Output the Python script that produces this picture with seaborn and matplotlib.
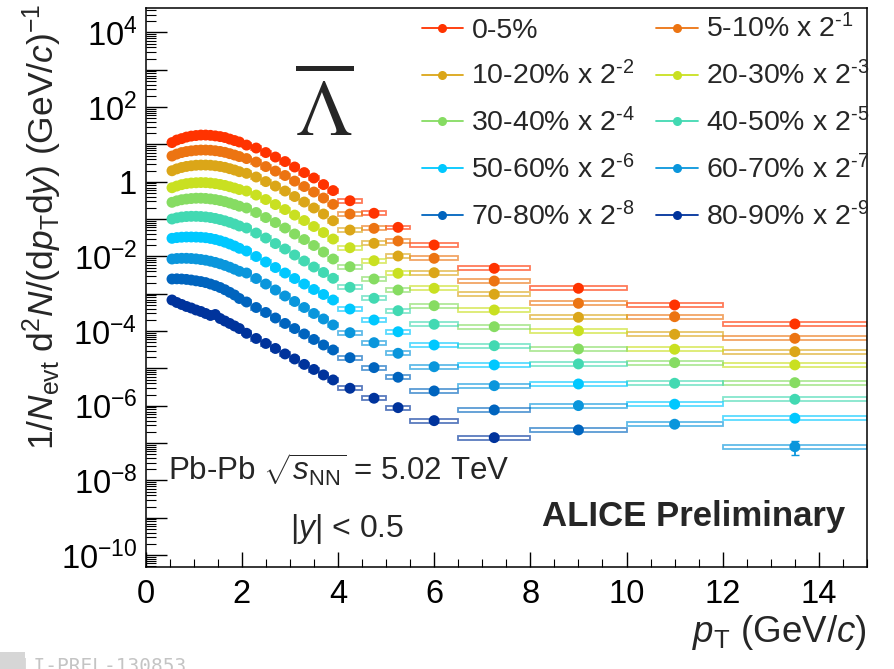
import numpy as np
import pandas as pd
import matplotlib
matplotlib.use("Agg")
import matplotlib.pyplot as plt
from matplotlib import ticker
from matplotlib.patches import Rectangle
from matplotlib.lines import Line2D
import seaborn as sns

# pT bin edges (GeV/c)
pt_edges = [0.5, 0.6, 0.7, 0.8, 0.9, 1.0, 1.1, 1.2, 1.3, 1.4, 1.5, 1.6, 1.7, 1.8, 1.9, 2.0,
            2.2, 2.4, 2.6, 2.8, 3.0, 3.2, 3.4, 3.6, 3.8, 4.0,
            4.5, 5.0, 5.5, 6.5, 8.0, 10.0, 12.0, 15.0]

centralities = ["0-5%", "5-10%", "10-20%", "20-30%", "30-40%",
                "40-50%", "50-60%", "60-70%", "70-80%", "80-90%"]
legend_labels = ["0-5%", r"5-10% x 2$^{\text{-}1}$", r"10-20% x 2$^{\text{-}2}$",
                 r"20-30% x 2$^{\text{-}3}$", r"30-40% x 2$^{\text{-}4}$",
                 r"40-50% x 2$^{\text{-}5}$", r"50-60% x 2$^{\text{-}6}$",
                 r"60-70% x 2$^{\text{-}7}$", r"70-80% x 2$^{\text{-}8}$",
                 r"80-90% x 2$^{\text{-}9}$"]
colors = ["#ff3300", "#ec7412", "#dba618", "#c9e021", "#86dc62",
          "#42d9b2", "#00c8ff", "#0a96dc", "#0064be", "#00339c"]

# spectra as drawn (already scaled by 2^-k)
y_0_5 = [11.2, 13.1, 14.3, 15.7, 16.7, 17.3, 17.8, 17.8, 17.5, 16.9, 16.2, 15.3, 13.9, 12.7, 11.6,
         9.6, 8.0, 6.05, 4.59, 3.47, 2.48, 1.76, 1.26, 0.84, 0.58,
         0.31, 0.143, 0.060, 0.0202, 0.0048, 0.0014, 5.0e-4, 1.55e-4]
y_5_10 = [4.88, 5.51, 6.05, 6.44, 6.72, 6.93, 7.06, 7.06, 6.97, 6.76, 6.48, 6.13, 5.65, 5.19, 4.73,
          4.18, 3.37, 2.55, 1.93, 1.47, 1.04, 0.744, 0.530, 0.366, 0.248,
          0.1365, 0.0565, 0.0259, 0.0089, 0.00219, 5.55e-4, 2.43e-4, 6.4e-5]
y_10_20 = [1.97, 2.21, 2.41, 2.57, 2.68, 2.77, 2.80, 2.80, 2.77, 2.68, 2.57, 2.43, 2.24, 2.06, 1.86,
           1.68, 1.34, 1.01, 0.767, 0.564, 0.402, 0.286, 0.198, 0.1365, 0.0903,
           0.0509, 0.0224, 0.01025, 0.00366, 9.7e-4, 2.34e-4, 8.2e-5, 2.81e-5]
y_20_30 = [0.691, 0.767, 0.836, 0.889, 0.923, 0.940, 0.952, 0.946, 0.923, 0.889, 0.847, 0.796, 0.735, 0.678, 0.618,
           0.564, 0.440, 0.334, 0.245, 0.180, 0.128, 0.0914, 0.0632, 0.0436, 0.0292,
           0.0171, 0.00767, 0.00353, 0.0014, 3.67e-4, 1.02e-4, 3.26e-5, 1.24e-5]
y_30_40 = [0.281, 0.308, 0.330, 0.344, 0.355, 0.362, 0.362, 0.357, 0.346, 0.332, 0.314, 0.293, 0.269, 0.245, 0.221,
           0.198, 0.150, 0.110, 0.0808, 0.0576, 0.0398, 0.0283, 0.0196, 0.0131, 0.00852,
           0.0053, 0.00248, 0.00126, 4.79e-4, 1.31e-4, 3.32e-5, 1.43e-5, 4.15e-6]
y_40_50 = [0.1003, 0.108, 0.1135, 0.117, 0.1185, 0.1185, 0.117, 0.1142, 0.110, 0.1041, 0.0972, 0.0898, 0.0818, 0.0737, 0.0652,
           0.0576, 0.0423, 0.0311, 0.0221, 0.0158, 0.0109, 0.00753, 0.0052, 0.00371, 0.00259,
           0.00149, 7.55e-4, 3.52e-4, 1.52e-4, 4.06e-5, 1.32e-5, 4.0e-6, 1.49e-6]
y_50_60 = [0.0305, 0.0319, 0.0327, 0.0331, 0.0331, 0.0329, 0.0325, 0.0317, 0.0303, 0.0285, 0.0263, 0.0240, 0.0215, 0.0190, 0.0165,
           0.01395, 0.00994, 0.00708, 0.00504, 0.00359, 0.00256, 0.00182, 0.0013, 9.55e-4, 6.8e-4,
           3.9e-4, 1.98e-4, 9.6e-5, 4.24e-5, 1.24e-5, 3.83e-6, 1.10e-6, 4.63e-7]
y_60_70 = [0.00852, 0.00878, 0.00889, 0.00889, 0.00878, 0.00857, 0.00826, 0.00791, 0.00744, 0.00691, 0.00634, 0.00574, 0.00514, 0.00454, 0.00399,
           0.00359, 0.00256, 0.00182, 0.00126, 8.71e-4, 6.2e-4, 4.28e-4, 2.96e-4, 2.11e-4, 1.46e-4,
           9.06e-5, 4.89e-5, 2.54e-5, 1.11e-5, 3.45e-6, 1.01e-6, 3.2e-7, 8.0e-8]
y_70_80 = [0.00248, 0.00251, 0.00248, 0.00242, 0.00233, 0.00222, 0.00212, 0.00199, 0.00182, 0.00165, 0.00147, 0.00128, 0.00109, 9.26e-4, 7.46e-4,
           6.01e-4, 4.28e-4, 3.15e-4, 2.24e-4, 1.60e-4, 1.17e-4, 8.37e-5, 5.96e-5, 4.24e-5, 3.12e-5,
           1.94e-5, 1.05e-5, 5.8e-6, 2.49e-6, 7.72e-7, 2.25e-7]
y_80_90 = [6.8e-4, 5.83e-4, 5.16e-4, 4.56e-4, 4.15e-4, 3.67e-4, 3.35e-4, 2.96e-4, 2.62e-4, 2.78e-4, 2.17e-4, 1.86e-4, 1.60e-4, 1.37e-4, 1.17e-4,
           8.73e-5, 6.34e-5, 4.66e-5, 3.42e-5, 2.44e-5, 1.79e-5, 1.28e-5, 9.37e-6, 6.68e-6, 4.91e-6,
           2.94e-6, 1.59e-6, 8.9e-7, 3.99e-7, 1.40e-7]
spectra = [y_0_5, y_5_10, y_10_20, y_20_30, y_30_40, y_40_50, y_50_60, y_60_70, y_70_80, y_80_90]

syst_rel = 0.12          # relative size of the systematic boxes
stat_60_70_last = 3.2e-8  # only stat. error large enough to be seen

rows = []
for cent, vals in zip(centralities, spectra):
    for i, v in enumerate(vals):
        rows.append({"centrality": cent, "pt": 0.5 * (pt_edges[i] + pt_edges[i + 1]),
                     "lo": pt_edges[i], "hi": pt_edges[i + 1], "value": v})
df = pd.DataFrame(rows)

sns.set_theme(style="ticks")
plt.rcParams["font.family"] = ["Liberation Sans", "DejaVu Sans"]
plt.rcParams["mathtext.fontset"] = "custom"
plt.rcParams["mathtext.rm"] = "Liberation Sans"
plt.rcParams["mathtext.it"] = "Liberation Sans:italic"
plt.rcParams["mathtext.bf"] = "Liberation Sans:bold"

fig = plt.figure(figsize=(8.94, 6.69), dpi=100)
ax = fig.add_axes([0.1628, 0.1525, 0.807, 0.8355])
ax.set_yscale("log")

# systematic boxes
for cent, col in zip(centralities, colors):
    sub = df[df["centrality"] == cent]
    for _, r in sub.iterrows():
        ax.add_patch(Rectangle((r["lo"], r["value"] * (1 - syst_rel)), r["hi"] - r["lo"],
                               2 * syst_rel * r["value"], facecolor="none",
                               edgecolor=col, lw=1.3, alpha=0.65, zorder=2))

sns.scatterplot(data=df, x="pt", y="value", hue="centrality", hue_order=centralities,
                palette=colors, s=62, linewidth=0, legend=False, ax=ax, zorder=3)

last = df[df["centrality"] == "60-70%"].iloc[-1]
ax.errorbar(last["pt"], last["value"], yerr=stat_60_70_last, fmt="none",
            ecolor=colors[7], elinewidth=1.3, capsize=3, zorder=3)

ax.set_xlim(0, 15)
ax.set_ylim(4.8e-11, 4.5e4)
ax.set_xlabel("")
ax.set_ylabel("")

ax.xaxis.set_major_locator(ticker.MultipleLocator(2))
ax.xaxis.set_minor_locator(ticker.MultipleLocator(0.5))
ax.yaxis.set_major_locator(ticker.LogLocator(base=10, numticks=100))
ax.yaxis.set_minor_locator(ticker.LogLocator(base=10, subs=np.arange(2, 10), numticks=100))


def ylab(v, pos):
    e = int(round(np.log10(v)))
    if e % 2:
        return ""
    if e == 0:
        return "1"
    return r"$10^{%d}$" % e


ax.yaxis.set_major_formatter(ticker.FuncFormatter(ylab))
ax.yaxis.set_minor_formatter(ticker.NullFormatter())
ax.tick_params(axis="both", which="both", direction="in", colors="black",
               labelsize=23.5, top=False, right=False)
ax.tick_params(axis="y", which="major", length=15, width=1, pad=6)
ax.tick_params(axis="y", which="minor", length=7.5, width=0.8)
ax.tick_params(axis="x", which="major", length=11, width=1, pad=9)
ax.tick_params(axis="x", which="minor", length=5.5, width=0.8)
for s in ax.spines.values():
    s.set_color("black")
    s.set_linewidth(1.1)

ax.text(-0.143, 1.008, r"1/$N_{\rm evt}$ d$^2N$/(d$p_{\rm T}$d$y$) (GeV/$c$)$^{-1}$",
        transform=ax.transAxes, rotation=90, ha="center", va="top", fontsize=25.5)
ax.text(1.0, -0.118, r"$p_{\rm T}$ (GeV/$c$)", transform=ax.transAxes,
        ha="right", va="center", fontsize=26.5)

ax.text(0.248, 0.81, r"$\overline{\Lambda}$", transform=ax.transAxes, ha="center",
        va="center", fontsize=58, math_fontfamily="stix")

ax.text(0.031, 0.1735, r"Pb-Pb $\sqrt{s_{\rm NN}}$ = 5.02 TeV", transform=ax.transAxes,
        ha="left", va="center", fontsize=22.5)
ax.text(0.2, 0.068, r"|$y$| < 0.5", transform=ax.transAxes,
        ha="left", va="center", fontsize=23)
ax.text(0.9695, 0.09, "ALICE Preliminary", transform=ax.transAxes,
        ha="right", va="center", fontsize=25, fontweight="bold")

# legend filled row by row: left column even entries, right column odd entries
order = [0, 2, 4, 6, 8, 1, 3, 5, 7, 9]
handles = [Line2D([0], [0], color=colors[i], lw=1.3, marker="o", ms=6.5, mew=0) for i in order]
ax.legend(handles, [legend_labels[i] for i in order], ncol=2, loc="upper left",
          bbox_to_anchor=(0.355, 1.024), frameon=False, fontsize=20.5, handlelength=1.45,
          handletextpad=0.3, columnspacing=0.75, labelspacing=0.62, borderaxespad=0.3)

# preliminary figure id at the cut-off bottom edge
fig.text(0.012, 0.004, "ALI-PREL-130853", fontsize=14, family="DejaVu Sans Mono",
         color="#c4c4c4", ha="left", va="center")
fig.patches.append(Rectangle((0, 0), 25 / 894, 17 / 669, transform=fig.transFigure,
                             facecolor="#d6d6d6", edgecolor="none", zorder=5))

fig.savefig("out.png", dpi=100)
